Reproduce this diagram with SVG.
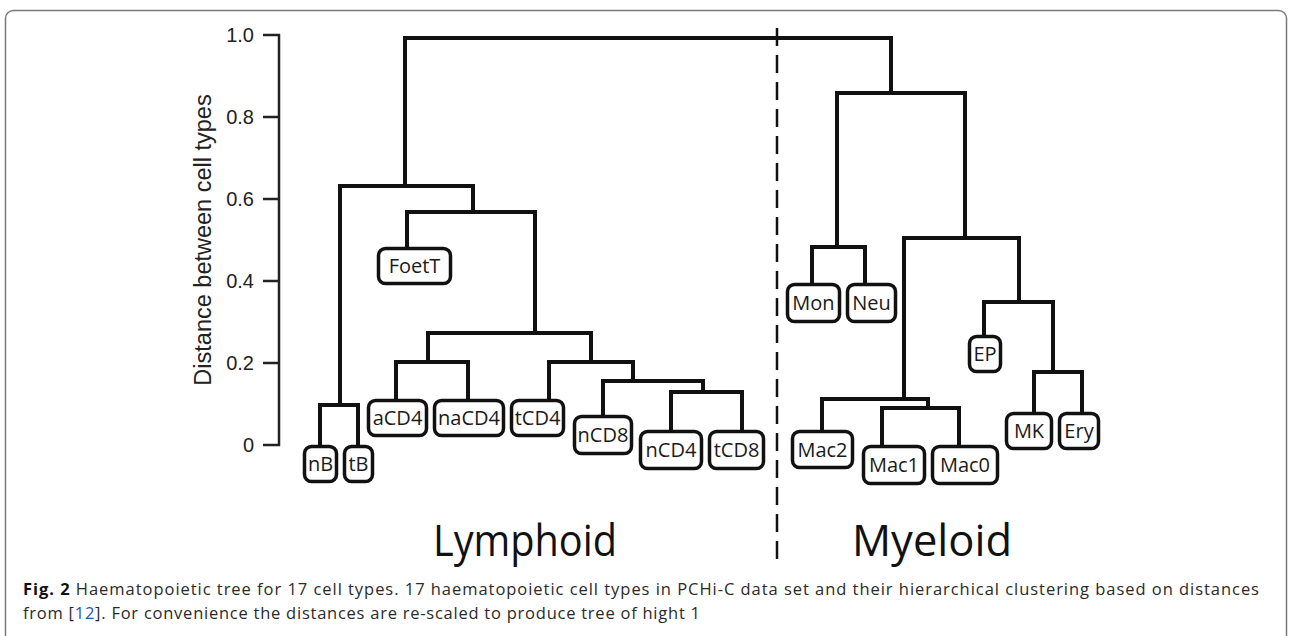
<svg xmlns="http://www.w3.org/2000/svg" width="1292" height="636" viewBox="0 0 1292 636">
  <style>
    .branch { fill: none; stroke: #111; stroke-width: 4; stroke-linecap: square; stroke-linejoin: miter; }
    .leaf rect { fill: #fff; stroke: #111; stroke-width: 3.5; }
    .leaf text { font-family: "Open Sans", "Noto Sans", sans-serif; font-size: 20px; fill: #1a1a1a; text-anchor: middle; }
    .axis { fill: none; stroke: #222; stroke-width: 2.5; }
    .tick-label { font-family: "Liberation Sans", Arial, sans-serif; font-size: 20px; fill: #222; text-anchor: end; }
    .group-label { font-family: "Open Sans", "Noto Sans", sans-serif; font-size: 44px; fill: #111; text-anchor: middle; }
    .caption { font-family: "Open Sans", "Noto Sans", sans-serif; font-size: 16.5px; fill: #2a2a2a; }
  </style>

  <!-- figure frame -->
  <rect x="5.5" y="10.5" width="1281" height="700" rx="8" fill="#fff" stroke="#7a7a7a" stroke-width="1.5"/>

  <!-- distance axis -->
  <g id="axis">
    <path class="axis" d="M263 35 H279 V445 H263 M263 117 H279 M263 199 H279 M263 281 H279 M263 363 H279"/>
    <text class="tick-label" x="254" y="42">1.0</text>
    <text class="tick-label" x="254" y="124">0.8</text>
    <text class="tick-label" x="254" y="206">0.6</text>
    <text class="tick-label" x="254" y="288">0.4</text>
    <text class="tick-label" x="254" y="370">0.2</text>
    <text class="tick-label" x="254" y="452">0</text>
    <text font-family="Liberation Sans, Arial, sans-serif" font-size="23.5" fill="#222" text-anchor="middle" transform="translate(211 240) rotate(-90)">Distance between cell types</text>
  </g>

  <!-- lineage divider -->
  <line x1="777" y1="28" x2="777" y2="560" stroke="#111" stroke-width="2.5" stroke-dasharray="18 9"/>

  <!-- dendrogram branches -->
  <g id="connectors">
    <path class="branch" d="M405 186 V38 H891 V93"/>
    <path class="branch" d="M340 405 V186 H473 V212"/>
    <path class="branch" d="M320 445 V405 H358 V445"/>
    <path class="branch" d="M407 247 V212 H535 V333"/>
    <path class="branch" d="M428 362 V333 H591 V362"/>
    <path class="branch" d="M396 399 V362 H468 V399"/>
    <path class="branch" d="M549 399 V362 H633 V381"/>
    <path class="branch" d="M603 415 V381 H703 V392"/>
    <path class="branch" d="M671 430 V392 H742 V430"/>
    <path class="branch" d="M837 247 V93 H965 V238"/>
    <path class="branch" d="M812 283 V247 H865 V283"/>
    <path class="branch" d="M904 399 V238 H1019 V302"/>
    <path class="branch" d="M822 430 V399 H928 V408"/>
    <path class="branch" d="M882 445 V408 H959 V445"/>
    <path class="branch" d="M984 335 V302 H1053 V372"/>
    <path class="branch" d="M1034 412 V372 H1082 V412"/>
  </g>

  <!-- cell types -->
  <g id="nB" class="leaf"><rect x="304.5" y="446.5" width="32" height="35" rx="7"/><text x="320.5" y="471">nB</text></g>
  <g id="tB" class="leaf"><rect x="344.5" y="446.5" width="28" height="35" rx="7"/><text x="358.5" y="471">tB</text></g>
  <g id="aCD4" class="leaf"><rect x="368.5" y="400.5" width="58" height="35" rx="7"/><text x="397.5" y="425">aCD4</text></g>
  <g id="naCD4" class="leaf"><rect x="434.5" y="400.5" width="69" height="35" rx="7"/><text x="469" y="425">naCD4</text></g>
  <g id="tCD4" class="leaf"><rect x="511.5" y="400.5" width="52" height="35" rx="7"/><text x="537.5" y="425">tCD4</text></g>
  <g id="FoetT" class="leaf"><rect x="378.5" y="248.5" width="72" height="35" rx="7"/><text x="414.5" y="273">FoetT</text></g>
  <g id="nCD8" class="leaf"><rect x="574.5" y="416.5" width="57" height="37" rx="7"/><text x="603" y="442">nCD8</text></g>
  <g id="nCD4" class="leaf"><rect x="640.5" y="431.5" width="61" height="37" rx="7"/><text x="671" y="457">nCD4</text></g>
  <g id="tCD8" class="leaf"><rect x="709.5" y="431.5" width="54" height="37" rx="7"/><text x="736.5" y="457">tCD8</text></g>
  <g id="Mon" class="leaf"><rect x="787.5" y="284.5" width="52" height="37" rx="7"/><text x="813.5" y="310">Mon</text></g>
  <g id="Neu" class="leaf"><rect x="847.5" y="284.5" width="48" height="37" rx="7"/><text x="871.5" y="310">Neu</text></g>
  <g id="EP" class="leaf"><rect x="969.5" y="336.5" width="31" height="35" rx="7"/><text x="985" y="361">EP</text></g>
  <g id="Mac2" class="leaf"><rect x="792.5" y="431.5" width="60" height="36" rx="7"/><text x="822.5" y="456.5">Mac2</text></g>
  <g id="Mac1" class="leaf"><rect x="863.5" y="446.5" width="61" height="37" rx="7"/><text x="894" y="472">Mac1</text></g>
  <g id="Mac0" class="leaf"><rect x="932.5" y="446.5" width="65" height="37" rx="7"/><text x="965" y="472">Mac0</text></g>
  <g id="MK" class="leaf"><rect x="1006.5" y="413.5" width="45" height="35" rx="7"/><text x="1029" y="438">MK</text></g>
  <g id="Ery" class="leaf"><rect x="1059.5" y="413.5" width="39" height="35" rx="7"/><text x="1079" y="438">Ery</text></g>

  <!-- lineage names -->
  <g id="lineages">
    <text class="group-label" x="525" y="556" textLength="184" lengthAdjust="spacingAndGlyphs">Lymphoid</text>
    <text class="group-label" x="932" y="556" textLength="160" lengthAdjust="spacingAndGlyphs">Myeloid</text>
  </g>

  <!-- caption -->
  <g id="caption" class="caption">
    <text x="23" y="595" textLength="1236" lengthAdjust="spacing"><tspan font-weight="bold" fill="#111">Fig. 2</tspan> Haematopoietic tree for 17 cell types. 17 haematopoietic cell types in PCHi-C data set and their hierarchical clustering based on distances</text>
    <text x="23" y="619" textLength="677" lengthAdjust="spacing">from [<tspan fill="#2a52be">12</tspan>]. For convenience the distances are re-scaled to produce tree of hight 1</text>
  </g>
</svg>
